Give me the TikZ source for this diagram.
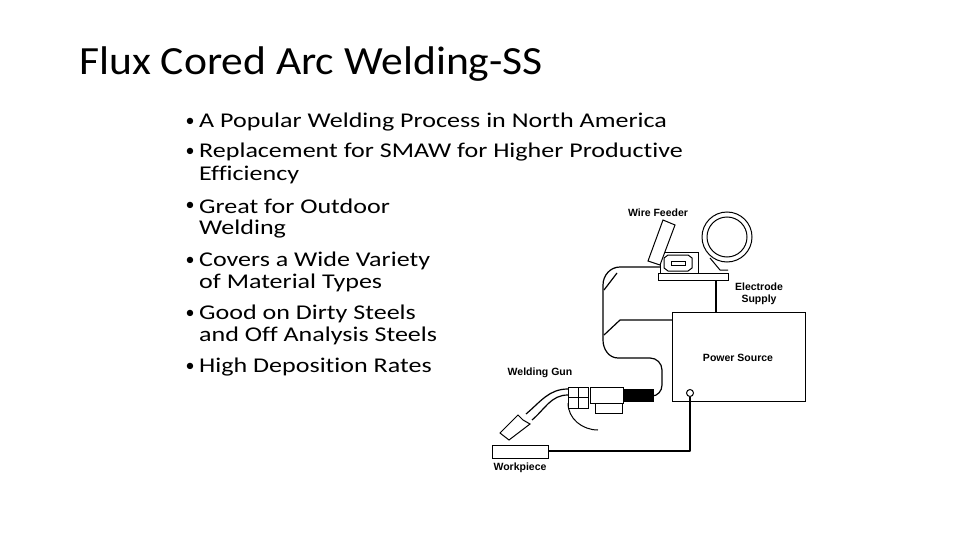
\documentclass[tikz,border=0pt]{standalone}
\usepackage{fontspec}
\setmainfont{Carlito}[Ligatures=NoCommon]
\newfontfamily\bulfont{Carlito}[FakeStretch=1.24,Ligatures=NoCommon]
\newfontfamily\titfont{Carlito}[FakeStretch=1.09]
\newfontfamily\arialb{Liberation Sans}
\begin{document}
\begin{tikzpicture}[x=1pt,y=-1pt,
  lbl/.style={font=\arialb\bfseries\fontsize{10.5}{12}\selectfont, align=center, inner sep=0},
  txt/.style={font=\bulfont\fontsize{21}{22}\selectfont, anchor=west, inner sep=0},
  bul/.style={font=\fontsize{18}{22}\selectfont, anchor=center, inner sep=0},
  part/.style={draw=black, line width=1pt, fill=white},
  wire/.style={draw=black, line width=1.2pt, line join=round}]
\useasboundingbox (0,0) rectangle (960,540);
\node[font=\titfont\fontsize{40}{44}\selectfont, anchor=west, inner sep=0] (title) at (79,64) {Flux Cored Arc Welding-SS};
% bullets
\foreach \y/\t [count=\i] in {122/A Popular Welding Process in North America,
  152/Replacement for SMAW for Higher Productive,
  206/Great for Outdoor,
  261/Covers a Wide Variety,
  314/Good on Dirty Steels,
  367/High Deposition Rates}{
  \node[bul] (b\i) at (190,\y) {•};
  \node[txt] (t\i) at (199,\y) {\t};
}
\node[txt] (c2) at (199,175) {Efficiency};
\node[txt] (c3) at (199,229) {Welding};
\node[txt] (c4) at (199,283) {of Material Types};
\node[txt] (c5) at (199,336) {and Off Analysis Steels};
% diagram
\draw[part] (672,312) rectangle (805,401);
\node[lbl] (ps) at (738,358) {Power Source};
% cables
\draw[wire] (660,267) -- (620,267) to[out=180,in=90] (603,285) -- (603,340) to[out=-90,in=180] (618,358) -- (650,358) to[out=0,in=90] (662,370) -- (662,385) to[out=-90,in=0] (652,396);
\draw[wire] (672,320) -- (620,320) -- (604,335);
\draw[wire] (617,273) -- (604,290);
\draw[wire] (716,280) -- (716,312);
% electrode supply
\draw[part] (727,237) circle (25);
\draw[part] (727,237) circle (20);
\draw[part] (710,258) -- (720,270) -- (728,270);
% feeder
\draw[part] (660,252) rectangle (698,273);
\draw[part] (664,258) -- (668,255) -- (688,255) -- (692,258) -- (692,268) -- (688,271) -- (668,271) -- (664,268) -- cycle;
\draw[part,line width=0.6pt] (671,261) rectangle (685,265);
\draw[part] (658,273) rectangle (728,280);
\draw[part] (663,220) -- (675,225) -- (660,265) -- (648,261) -- cycle;
% gun
\draw[part] (568,403) to[out=-90,in=180] (598,430);
\draw[wire] (568,389) to[out=180,in=40] (526,414);
\draw[wire] (568,395) to[out=180,in=40] (532,420);
\draw[part] (518,415) -- (523,420) -- (530,424) -- (509,440) -- (500,433) -- cycle;
\draw[part] (595,403) rectangle (622,413);
\draw[part] (590,387) rectangle (623,403);
\draw[draw=black,fill=black] (623,389) rectangle (653,401);
\draw[part] (568,387) rectangle (588,408);
\draw[line width=0.8pt] (578,387) -- (578,408) (568,397) -- (588,397);
\node[lbl] (wg) at (540,373) {Welding Gun};
% terminal and workpiece
\draw[part] (690,393) circle (3.5);
\draw[part] (492,445) rectangle (548,458);
\draw[wire] (690,397) -- (690,451) -- (548,451);
\node[lbl] (wp) at (520,468) {Workpiece};
\node[lbl] (wf) at (658,213) {Wire Feeder};
\node[lbl] (es) at (759,294) {Electrode\\Supply};
\end{tikzpicture}
\end{document}
